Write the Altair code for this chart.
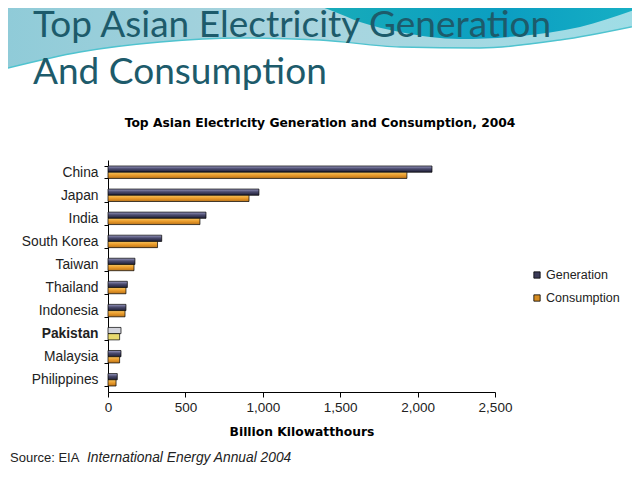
import altair as alt
import pandas as pd

# ---------------- data ----------------
countries = ["China", "Japan", "India", "South Korea", "Taiwan", "Thailand",
             "Indonesia", "Pakistan", "Malaysia", "Philippines"]
generation = [2093, 975, 633, 347, 174, 125, 116, 84, 84, 60]
consumption = [1931, 911, 594, 320, 168, 116, 110, 75, 75, 52]
series = ["Generation", "Consumption"]
x_ticks = [0, 500, 1000, 1500, 2000, 2500]

slide_title = ["Top Asian Electricity Generation", "And Consumption"]
chart_title = "Top Asian Electricity Generation and Consumption, 2004"
x_title = "Billion Kilowatthours"
source_plain = "Source: EIA"
source_italic = "International Energy Annual 2004"

# decorative banner outline (page pixels)
wave_x = [0, 80, 160, 240, 320, 400, 480, 560, 640]
wave_bottom = [70, 52, 42, 38, 40, 47, 48, 40, 25]
teal_x = [300, 330, 360, 400, 460, 520, 580, 640]
teal_bottom = [0, 10, 22, 32, 39, 36, 27, 8]

# ---------------- layout helpers ----------------
PAD_L, PAD_T = 100, 152
OX, OY = 8 + PAD_L, 8 + PAD_T  # page position of plot origin
W, H = 387, 232


def px_x():
    return alt.Scale(domain=[0, 640], range=[-OX, 640 - OX], zero=False, nice=False)


def px_y():
    return alt.Scale(domain=[0, 480], range=[-OY, 480 - OY], zero=False, nice=False)


grad_light = alt.Gradient(gradient="linear", x1=0, y1=0, x2=1, y2=0,
                          stops=[alt.GradientStop(offset=0, color="#8fcbd8"),
                                 alt.GradientStop(offset=0.45, color="#a9d4de"),
                                 alt.GradientStop(offset=1, color="#9fdde6")])
grad_teal = alt.Gradient(gradient="linear", x1=0, y1=0, x2=1, y2=0,
                         stops=[alt.GradientStop(offset=0, color="#19adb8"),
                                alt.GradientStop(offset=0.6, color="#0b9ec2"),
                                alt.GradientStop(offset=1, color="#17b0c4")])

light_df = pd.DataFrame({"x": wave_x, "y": wave_bottom, "y0": [0] * len(wave_x)})
teal_df = pd.DataFrame({"x": teal_x, "y": teal_bottom, "y0": [0] * len(teal_x)})

light = alt.Chart(light_df).mark_area(interpolate="monotone", fill=grad_light).encode(
    x=alt.X("x:Q", scale=px_x(), axis=None),
    y=alt.Y("y:Q", scale=px_y(), axis=None),
    y2="y0:Q",
)
light_line = alt.Chart(light_df).mark_line(interpolate="monotone", color="#4fc3cf", strokeWidth=1.5).encode(
    x=alt.X("x:Q", scale=px_x(), axis=None),
    y=alt.Y("y:Q", scale=px_y(), axis=None),
)
teal = alt.Chart(teal_df).mark_area(interpolate="monotone", fill=grad_teal).encode(
    x=alt.X("x:Q", scale=px_x(), axis=None),
    y=alt.Y("y:Q", scale=px_y(), axis=None),
    y2="y0:Q",
)
deco = alt.layer(light, light_line, teal)

# ---------------- bars ----------------
df = pd.DataFrame({
    "country": countries * 2,
    "series": [series[0]] * len(countries) + [series[1]] * len(countries),
    "value": generation + consumption,
})

grad_gen = {"gradient": "linear", "x1": 0, "y1": 0, "x2": 0, "y2": 1,
            "stops": [{"offset": 0, "color": "#9a9ac2"},
                      {"offset": 0.45, "color": "#4b4b6e"},
                      {"offset": 1, "color": "#1f1f35"}]}
grad_con = {"gradient": "linear", "x1": 0, "y1": 0, "x2": 0, "y2": 1,
            "stops": [{"offset": 0, "color": "#f7c45e"},
                      {"offset": 0.5, "color": "#e99a2a"},
                      {"offset": 1, "color": "#b9731a"}]}

fill_def = {
    "condition": [
        {"test": "datum.country === 'Pakistan' && datum.series === 'Generation'", "value": "#d3d4dc"},
        {"test": "datum.country === 'Pakistan'", "value": "#e8d96e"},
        {"test": "datum.series === 'Generation'", "value": grad_gen},
    ],
    "value": grad_con,
}

bars = alt.Chart(df).mark_bar(stroke="black", strokeWidth=0.7).encode(
    y=alt.Y("country:N", sort=countries,
            scale=alt.Scale(paddingInner=0.46, paddingOuter=0.26),
            axis=alt.Axis(title=None, domainColor="black", tickColor="black", tickSize=4,
                          tickBand="extent", labelFont="Liberation Sans", labelFontSize=13.8,
                          labelColor="#222222", labelPadding=6,
                          labelFontWeight={"condition": {"test": "datum.value === 'Pakistan'",
                                                         "value": "bold"},
                                           "value": "normal"})),
    yOffset=alt.YOffset("series:N", sort=series, scale=alt.Scale(domain=series)),
    x=alt.X("value:Q", scale=alt.Scale(domain=[0, 2500], nice=False),
            axis=alt.Axis(values=x_ticks, format=",.0f", grid=False, domainColor="black",
                          tickColor="black", tickSize=5, labelFont="Liberation Sans",
                          labelFontSize=13.5, labelColor="#222222", labelPadding=3,
                          labelFlush=False,
                          title=x_title, titleFont="DejaVu Sans", titleFontWeight="bold",
                          titleFontSize=12.3, titleColor="black", titlePadding=12)),
    fill=fill_def,
)


def text_at(txt, px, py, **kw):
    return alt.Chart(pd.DataFrame({"t": [txt]})).mark_text(**kw).encode(
        text="t:N", x=alt.value(px - OX), y=alt.value(py - OY))


title1 = text_at(slide_title[0], 33, 37, align="left", baseline="alphabetic",
                 font="Lato", fontSize=37, color="#1d5b6b")
title2 = text_at(slide_title[1], 33, 84, align="left", baseline="alphabetic",
                 font="Lato", fontSize=37, color="#1d5b6b")
ctitle = text_at(chart_title, 320, 123, align="center", baseline="middle",
                 font="DejaVu Sans", fontWeight="bold", fontSize=12.3, color="black")
src1 = text_at(source_plain, 10, 458, align="left", baseline="middle",
               font="Liberation Sans", fontSize=13, color="#222222")
src2 = text_at(source_italic, 87, 458, align="left", baseline="middle",
               font="Liberation Sans", fontSize=13.8, fontStyle="italic", color="#222222")

leg_df = pd.DataFrame({"s": series})
leg_y = {series[0]: 275, series[1]: 298}
leg_col = {series[0]: "#3b3b58", series[1]: "#d68d22"}
legend_layers = []
for s in series:
    base = alt.Chart(leg_df).transform_filter(alt.datum.s == s)
    legend_layers.append(base.mark_square(size=40, stroke="black", strokeWidth=0.8,
                                          fill=leg_col[s], opacity=1).encode(
        x=alt.value(537 - OX), y=alt.value(leg_y[s] - OY)))
    legend_layers.append(base.mark_text(align="left", baseline="middle", font="Liberation Sans",
                                        fontSize=12.5, color="#222222").encode(
        text="s:N", x=alt.value(546 - OX), y=alt.value(leg_y[s] - OY)))

main = alt.layer(bars, ctitle, src1, src2, *legend_layers)

chart = alt.layer(deco, title1, title2, main).resolve_scale(
    x="independent", y="independent"
).properties(
    width=W, height=H,
    autosize=alt.AutoSizeParams(type="none"),
    padding={"left": PAD_L, "top": PAD_T, "right": 640 - 16 - PAD_L - W, "bottom": 464 - PAD_T - H},
    background="white",
).configure_view(stroke=None)

chart.save("out.html", embed_options={"renderer": "svg", "actions": False})
